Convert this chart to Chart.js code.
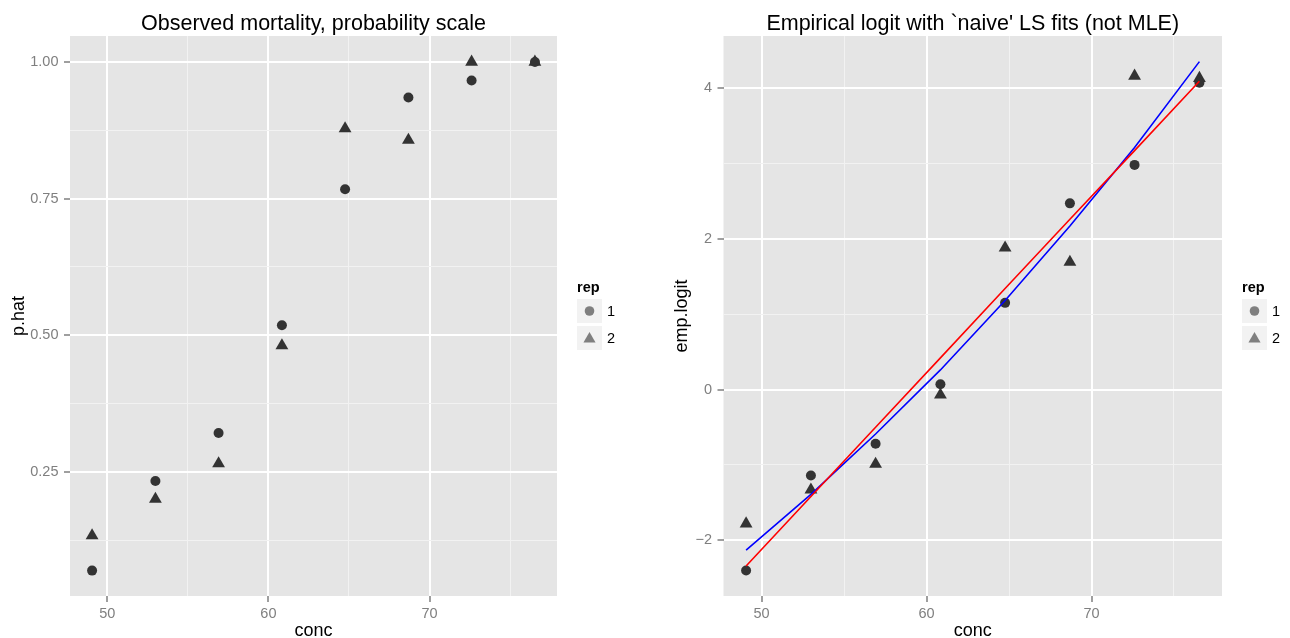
<!DOCTYPE html>
<html>
<head>
<meta charset="utf-8">
<script src="https://cdn.jsdelivr.net/npm/chart.js@4.4.0/dist/chart.umd.min.js"></script>
<style>
  html, body { margin: 0; padding: 0; background: #ffffff; }
  .row { display: flex; width: 1290px; height: 638px; }
  canvas { display: block; }
</style>
</head>
<body>
<div class="row">
  <canvas id="probChart" width="645" height="638"></canvas>
  <canvas id="logitChart" width="645" height="638"></canvas>
</div>
<script>
// beetle mortality by concentration, two replicates
const conc = [49.06, 52.99, 56.91, 60.84, 64.76, 68.69, 72.61, 76.54];

const pHatRep1 = [0.069, 0.233, 0.321, 0.518, 0.767, 0.935, 0.966, 1.0];
const pHatRep2 = [0.133, 0.2, 0.265, 0.481, 0.878, 0.857, 1.0, 1.0];

const logitRep1 = [-2.4, -1.14, -0.72, 0.07, 1.15, 2.47, 2.98, 4.07];
const logitRep2 = [-1.78, -1.33, -0.99, -0.07, 1.88, 1.69, 4.16, 4.13];

// the two least-squares fits, read at each conc
const fitRed = [-2.34, -1.42, -0.5, 0.42, 1.34, 2.26, 3.17, 4.09];
const fitBlue = [-2.13, -1.39, -0.59, 0.26, 1.18, 2.17, 3.21, 4.35];

const repLabels = ["1", "2"];
const repShapes = ["circle", "triangle"];

const concRange = [47.69, 77.91];
const concMajor = [50, 60, 70];
const concMinor = [55, 65, 75];
const concTickLabels = ["50", "60", "70"];

const pHatRange = [0.0225, 1.0476];
const pHatMajor = [0.25, 0.5, 0.75, 1.0];
const pHatMinor = [0.125, 0.375, 0.625, 0.875];
const pHatTickLabels = ["0.25", "0.50", "0.75", "1.00"];

const logitRange = [-2.739, 4.69];
const logitMajor = [-2, 0, 2, 4];
const logitMinor = [-1, 1, 3];
const logitTickLabels = ["\u22122", "0", "2", "4"];

Chart.defaults.font.family = '"Liberation Sans", Arial, Helvetica, sans-serif';

const POINT_COLOR = "#333333";
const KEY_COLOR = "#7F7F7F";

const toPoints = (xs, ys) => xs.map((x, i) => ({ x: x, y: ys[i] }));

const panelBackground = {
  id: "panelBackground",
  beforeDraw(chart) {
    const { ctx, chartArea } = chart;
    ctx.save();
    ctx.fillStyle = "#E5E5E5";
    ctx.fillRect(chartArea.left, chartArea.top, chartArea.width, chartArea.height);
    ctx.restore();
  },
};

// ggplot style legend: "rep" title and two grey key boxes
const repLegend = {
  id: "repLegend",
  afterDraw(chart) {
    const { ctx, chartArea } = chart;
    const x0 = chartArea.right + 20;
    const cy = (chartArea.top + chartArea.bottom) / 2;
    ctx.save();
    ctx.fillStyle = "#000000";
    ctx.textBaseline = "alphabetic";
    ctx.textAlign = "left";
    ctx.font = 'bold 14.5px "Liberation Sans", Arial, sans-serif';
    ctx.fillText("rep", x0, cy - 24.5);

    repLabels.forEach((label, i) => {
      const top = cy - 17 + i * 27;
      ctx.fillStyle = "#F2F2F2";
      ctx.fillRect(x0, top, 25, 24);
      ctx.fillStyle = KEY_COLOR;
      Chart.helpers.drawPoint(ctx, {
        pointStyle: repShapes[i],
        radius: repShapes[i] === "triangle" ? 7 : 4.8,
        rotation: 0,
        borderWidth: 0,
      }, x0 + 12.5, top + (repShapes[i] === "triangle" ? 13 : 12));
      ctx.fillStyle = "#000000";
      ctx.textBaseline = "middle";
      ctx.font = '14.5px "Liberation Sans", Arial, sans-serif';
      ctx.fillText(label, x0 + 30, top + 12.5);
    });
    ctx.restore();
  },
};

function gridScale(cfg) {
  const all = cfg.major.concat(cfg.minor).sort((a, b) => a - b);
  const isMajor = (c) => c.tick && cfg.major.indexOf(c.tick.value) >= 0;
  return {
    type: "linear",
    min: cfg.range[0],
    max: cfg.range[1],
    afterBuildTicks: (axis) => {
      axis.ticks = all.map((v) => ({ value: v }));
    },
    afterFit: (axis) => {
      if (cfg.isX) axis.height = cfg.size;
      else axis.width = cfg.size;
    },
    border: { display: false },
    grid: {
      color: (c) => (isMajor(c) ? "#FFFFFF" : "#F2F2F2"),
      lineWidth: (c) => (isMajor(c) ? 2 : 1),
      tickColor: (c) => (isMajor(c) ? KEY_COLOR : "rgba(0,0,0,0)"),
      tickWidth: 1.5,
      tickLength: 6,
    },
    ticks: {
      autoSkip: false,
      maxRotation: 0,
      padding: cfg.isX ? 3 : 5.5,
      color: KEY_COLOR,
      font: { size: 14.5 },
      callback: (v) => {
        const i = cfg.major.indexOf(v);
        return i >= 0 ? cfg.labels[i] : "";
      },
    },
    title: {
      display: true,
      text: cfg.title,
      color: "#000000",
      font: { size: 18, lineHeight: cfg.isX ? 0.8 : 1.2 },
      padding: cfg.isX ? 0 : { top: cfg.titlePad, bottom: 0 },
    },
  };
}

function pointSet(label, ys, shape) {
  return {
    type: "scatter",
    label: label,
    data: toPoints(conc, ys),
    pointStyle: shape,
    pointRadius: shape === "triangle" ? 7.4 : 5,
    pointBorderWidth: 0,
    backgroundColor: POINT_COLOR,
    borderColor: POINT_COLOR,
    order: 1,
  };
}

function lineSet(label, ys, color) {
  return {
    type: "line",
    label: label,
    data: toPoints(conc, ys),
    borderColor: color,
    borderWidth: 1.6,
    pointRadius: 0,
    tension: 0,
    fill: false,
    order: 0,
  };
}

function panelOptions(title, yScale, rightPad) {
  return {
    responsive: false,
    animation: false,
    events: [],
    layout: { padding: { left: 0, right: rightPad, top: 0, bottom: 0 } },
    plugins: {
      legend: { display: false },
      tooltip: { enabled: false },
      title: {
        display: true,
        text: title,
        fullSize: false,
        color: "#000000",
        font: { size: 21.5, weight: "normal", lineHeight: 1 },
        padding: { top: 13.5, bottom: 1 },
      },
    },
    scales: {
      x: gridScale({
        range: concRange, major: concMajor, minor: concMinor,
        labels: concTickLabels, title: "conc", isX: true, size: 42,
      }),
      y: yScale,
    },
  };
}

new Chart(document.getElementById("probChart"), {
  type: "scatter",
  data: {
    datasets: [
      pointSet("1", pHatRep1, repShapes[0]),
      pointSet("2", pHatRep2, repShapes[1]),
    ],
  },
  options: panelOptions(
    "Observed mortality, probability scale",
    gridScale({
      range: pHatRange, major: pHatMajor, minor: pHatMinor,
      labels: pHatTickLabels, title: "p.hat", isX: false, size: 70, titlePad: 8,
    }),
    88
  ),
  plugins: [panelBackground, repLegend],
});

new Chart(document.getElementById("logitChart"), {
  type: "scatter",
  data: {
    datasets: [
      lineSet("LS fit", fitRed, "#FF0000"),
      lineSet("LS fit (curved)", fitBlue, "#0000FF"),
      pointSet("1", logitRep1, repShapes[0]),
      pointSet("2", logitRep2, repShapes[1]),
    ],
  },
  options: panelOptions(
    "Empirical logit with `naive' LS fits (not MLE)",
    gridScale({
      range: logitRange, major: logitMajor, minor: logitMinor,
      labels: logitTickLabels, title: "emp.logit", isX: false, size: 78.5, titlePad: 26.5,
    }),
    68
  ),
  plugins: [panelBackground, repLegend],
});
</script>
</body>
</html>
